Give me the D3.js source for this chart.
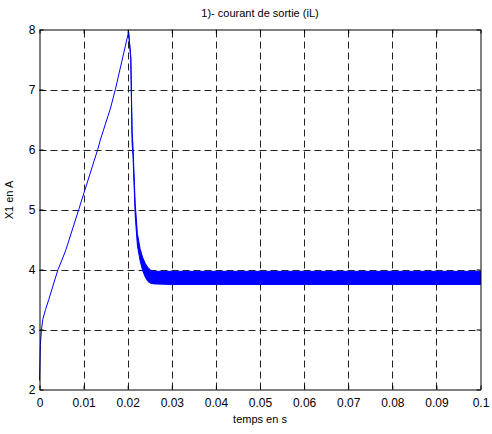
<!DOCTYPE html>
<html>
<head>
<meta charset="utf-8">
<script src="https://cdn.jsdelivr.net/npm/d3@7"></script>
<style>
  html, body { margin: 0; padding: 0; background: #fff; }
  svg { display: block; }
  text { font-family: "Liberation Sans", Arial, Helvetica, sans-serif; fill: #000; }
</style>
</head>
<body>
<svg id="chart" width="492" height="434"></svg>
<script>
// Inductor current iL: charging ramp (single trace)
const rampTime  = [0, 0.0002, 0.00045, 0.00075, 0.00136, 0.0021, 0.0042, 0.0051, 0.006, 0.0089, 0.0132, 0.0138, 0.0161, 0.0172, 0.0202];
const rampValue = [2.15, 2.75, 3.0, 3.17, 3.33, 3.5, 4.0, 4.16, 4.33, 5.0, 6.0, 6.16, 6.69, 7.0, 7.96];

// Decay and regulated regime: ripple envelope (upper / lower bound)
const rippleTime  = [0.0202, 0.0207, 0.0210, 0.0212, 0.0217, 0.0222, 0.0228, 0.0234, 0.0240, 0.0246, 0.0252, 0.0260, 0.030, 0.040, 0.050, 0.060, 0.070, 0.080, 0.090, 0.100];
const rippleUpper = [7.96, 7.55, 6.30, 6.05, 5.10, 4.60, 4.35, 4.20, 4.10, 4.03, 3.99, 3.97, 3.97, 3.97, 3.97, 3.97, 3.97, 3.97, 3.97, 3.97];
const rippleLower = [7.96, 7.50, 6.10, 5.90, 4.90, 4.40, 4.15, 3.98, 3.87, 3.80, 3.77, 3.76, 3.75, 3.75, 3.75, 3.75, 3.75, 3.75, 3.75, 3.75];

// Axis ticks
const xTicks = [0, 0.01, 0.02, 0.03, 0.04, 0.05, 0.06, 0.07, 0.08, 0.09, 0.1];
const xTickLabels = ["0", "0.01", "0.02", "0.03", "0.04", "0.05", "0.06", "0.07", "0.08", "0.09", "0.1"];
const yTicks = [2, 3, 4, 5, 6, 7, 8];
const yTickLabels = ["2", "3", "4", "5", "6", "7", "8"];

const titleText = "1)- courant de sortie (iL)";
const xLabelText = "temps en s";
const yLabelText = "X1 en A";

const svg = d3.select("#chart");
const plotLeft = 39.5, plotRight = 480.5, plotTop = 29.5, plotBottom = 389.5;

const x = d3.scaleLinear().domain([0, 0.1]).range([plotLeft, plotRight]);
const y = d3.scaleLinear().domain([2, 8]).range([plotBottom, plotTop]);

// Dashed grid
const grid = svg.append("g").attr("stroke", "#222").attr("stroke-width", 1)
  .attr("stroke-dasharray", "7,4").attr("fill", "none");
grid.selectAll("line.gx").data(xTicks.slice(1, -1)).join("line").attr("class", "gx")
  .attr("x1", d => Math.round(x(d)) + 0.5).attr("x2", d => Math.round(x(d)) + 0.5)
  .attr("y1", plotBottom).attr("y2", plotTop);
grid.selectAll("line.gy").data(yTicks.slice(1, -1)).join("line").attr("class", "gy")
  .attr("y1", d => Math.round(y(d)) + 0.5).attr("y2", d => Math.round(y(d)) + 0.5)
  .attr("x1", plotLeft).attr("x2", plotRight);

// Current trace
const blue = "#0000ff";
const ramp = rampTime.map((t, i) => [t, rampValue[i]]);
svg.append("path").datum(ramp)
  .attr("fill", "none").attr("stroke", blue).attr("stroke-width", 1)
  .attr("d", d3.line().x(d => x(d[0])).y(d => y(d[1])));

const ripple = rippleTime.map((t, i) => ({ t, hi: rippleUpper[i], lo: rippleLower[i] }));
svg.append("path").datum(ripple)
  .attr("fill", blue).attr("stroke", blue).attr("stroke-width", 1)
  .attr("stroke-linejoin", "round")
  .attr("d", d3.area().x(d => x(d.t)).y0(d => y(d.lo)).y1(d => y(d.hi)));

// Axes with inward ticks on all four sides
const fmtX = (d, i) => xTickLabels[i];
const fmtY = (d, i) => yTickLabels[i];
const styleAxis = g => {
  g.select(".domain").attr("stroke", "#000");
  g.selectAll(".tick line").attr("stroke", "#000");
  g.selectAll("text").attr("font-size", 12).attr("font-family", "Liberation Sans, Arial, sans-serif").attr("fill", "#000");
};
svg.append("g").attr("transform", `translate(0,${plotBottom})`)
  .call(d3.axisBottom(x).tickValues(xTicks).tickFormat(fmtX).tickSizeInner(-4).tickSizeOuter(0).tickPadding(9))
  .call(styleAxis);
svg.append("g").attr("transform", `translate(0,${plotTop})`)
  .call(d3.axisTop(x).tickValues(xTicks).tickFormat("").tickSizeInner(-4).tickSizeOuter(0))
  .call(styleAxis);
svg.append("g").attr("transform", `translate(${plotLeft},0)`)
  .call(d3.axisLeft(y).tickValues(yTicks).tickFormat(fmtY).tickSizeInner(-4).tickSizeOuter(0).tickPadding(4))
  .call(styleAxis);
svg.append("g").attr("transform", `translate(${plotRight},0)`)
  .call(d3.axisRight(y).tickValues(yTicks).tickFormat("").tickSizeInner(-4).tickSizeOuter(0))
  .call(styleAxis);

// Titles
svg.append("text").attr("x", (plotLeft + plotRight) / 2).attr("y", 17)
  .attr("text-anchor", "middle").attr("font-size", 11).text(titleText);
svg.append("text").attr("x", (plotLeft + plotRight) / 2).attr("y", 423)
  .attr("text-anchor", "middle").attr("font-size", 11).text(xLabelText);
svg.append("text").attr("transform", `translate(13,200) rotate(-90)`)
  .attr("text-anchor", "middle").attr("font-size", 11).text(yLabelText);
</script>
</body>
</html>
